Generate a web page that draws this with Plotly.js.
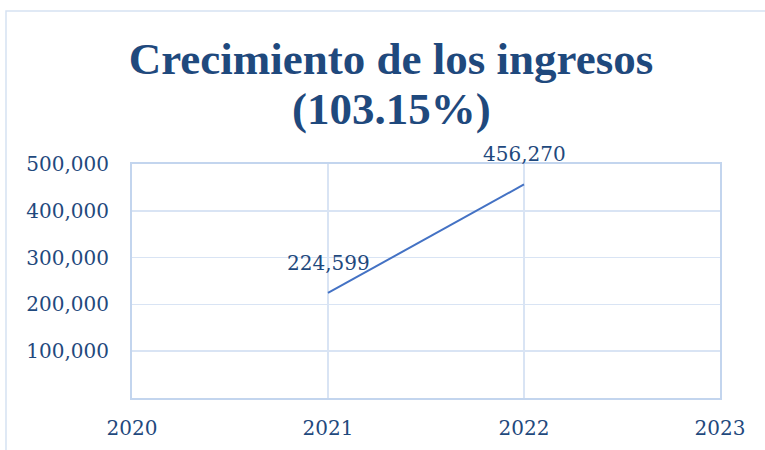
<!DOCTYPE html>
<html>
<head>
<meta charset="utf-8">
<script src="https://cdn.plot.ly/plotly-3.0.1.min.js"></script>
<style>html,body{margin:0;padding:0;background:#fff;}#chart{width:765px;height:450px;}</style>
</head>
<body>
<div id="chart"></div>
<script>
const years = [2021, 2022];
const ingresos = [224599, 456270];
const labels = ['224,599', '456,270'];
const xTicks = [2020, 2021, 2022, 2023];
const xTickText = ['2020', '2021', '2022', '2023'];
const yTicks = [100000, 200000, 300000, 400000, 500000];
const yTickText = ['100,000', '200,000', '300,000', '400,000', '500,000'];
const titleLine1 = 'Crecimiento de los ingresos';
const titleLine2 = '(103.15%)';

const textColor = '#1F497D';
const gridColor = '#D9E4F4';
const axisColor = '#C3D5EE';

const trace = {
  x: years, y: ingresos, type: 'scatter', mode: 'lines',
  line: {color: '#4472C4', width: 2}, hoverinfo: 'skip', showlegend: false
};

const annotations = years.map((yr, i) => ({
  x: yr, y: ingresos[i], xref: 'x', yref: 'y', text: labels[i], showarrow: false,
  yshift: 30, font: {family: 'DejaVu Serif', size: 20, color: textColor}
}));
annotations.push({
  x: 0.4405, y: 1.237, xref: 'paper', yref: 'paper', text: '<b>' + titleLine2 + '</b>',
  showarrow: false, xanchor: 'center', yanchor: 'middle',
  font: {family: 'Liberation Serif', size: 45, color: textColor}
});

const layout = {
  width: 765, height: 450,
  margin: {l: 132, r: 45, t: 164, b: 52},
  paper_bgcolor: '#fff', plot_bgcolor: '#fff',
  title: {text: '<b>' + titleLine1 + '</b>', x: 0.511, xanchor: 'center', xref: 'container',
          y: 0.871, yanchor: 'middle', yref: 'container',
          font: {family: 'Liberation Serif', size: 45, color: textColor}},
  xaxis: {range: [2020, 2023], tickvals: xTicks, ticktext: xTickText, showgrid: true,
          gridcolor: gridColor, gridwidth: 1.5, showline: true, mirror: true, linecolor: axisColor, linewidth: 2,
          zeroline: false, ticks: '', ticklabelstandoff: 11,
          tickfont: {family: 'DejaVu Serif', size: 20, color: textColor}},
  yaxis: {range: [0, 500000], tickvals: yTicks, ticktext: yTickText, showgrid: true,
          gridcolor: gridColor, gridwidth: 1.5, showline: true, mirror: true, linecolor: axisColor, linewidth: 2,
          zeroline: false, ticks: '', ticklabelstandoff: 17,
          tickfont: {family: 'DejaVu Serif', size: 20, color: textColor}},
  annotations: annotations,
  shapes: [{type: 'rect', xref: 'paper', yref: 'paper', x0: -0.2143, x1: 1.09, y0: -0.25, y1: 1.6538,
            line: {color: '#D6E2F2', width: 1.5}, fillcolor: 'rgba(0,0,0,0)', layer: 'below'}]
};

Plotly.newPlot('chart', [trace], layout, {displayModeBar: false, staticPlot: true});
</script>
</body>
</html>
